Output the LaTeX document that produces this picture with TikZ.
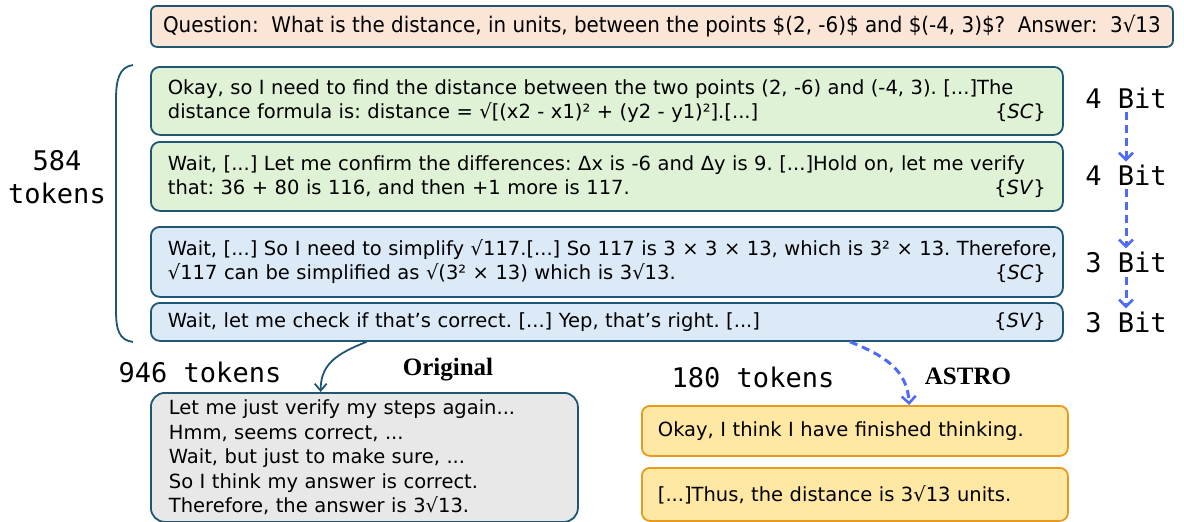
\documentclass[tikz,border=0pt]{standalone}
\usepackage{fontspec}
\setmainfont{DejaVu Sans}
\newfontfamily\monof{DejaVu Sans Mono}
\newfontfamily\serifb{Liberation Serif}
\newfontfamily\condf[FakeStretch=0.925]{DejaVu Sans}
\usetikzlibrary{arrows.meta,calc}
\definecolor{edge}{HTML}{1F5673}
\definecolor{qfill}{HTML}{FBE5D6}
\definecolor{gfill}{HTML}{DFF2D6}
\definecolor{bfill}{HTML}{DCE9F6}
\definecolor{grayfill}{HTML}{E8E8E8}
\definecolor{yfill}{HTML}{FFE8A3}
\definecolor{yedge}{HTML}{E69B1E}
\definecolor{dblue}{HTML}{4F6BF5}
\newcommand{\rtag}[1]{\hskip0pt plus1filll\{\textit{#1}\}}
\frenchspacing
\hyphenpenalty=10000
\begin{document}
\begin{tikzpicture}[x=1pt,y=-1pt,
  box/.style={draw=edge, line width=1.8pt, rounded corners=9pt, anchor=north west,
    inner xsep=17pt, inner ysep=0pt, align=left, text width=878pt, minimum height=#1,
    font=\fontsize{19.5}{24}\selectfont},
  mono/.style={font=\monof\fontsize{27}{33}\selectfont, inner sep=0pt},
  bold/.style={font=\serifb\bfseries\fontsize{25}{30}\selectfont, inner sep=0pt},
  dasharrow/.style={draw=dblue, line width=3pt, dash pattern=on 8pt off 5pt,
    -{Straight Barb[length=7pt,width=14pt,line width=2.6pt]}},
]
\useasboundingbox (0,0) rectangle (1184,522);

% question
\node[draw=edge, fill=qfill, line width=1.8pt, rounded corners=6pt, anchor=north west,
  minimum width=1022pt, minimum height=41pt, inner sep=0pt,
  font=\condf\fontsize{21.5}{24}\selectfont] (q) at (150,5)
  {Question:\ \ What is the distance, in units, between the points \$(2, -6)\$ and \$(-4, 3)\$?\ \ Answer:\ \ 3√13};

% reasoning boxes
\node[box=68pt, fill=gfill] (b1) at (150,66)
  {\mbox{Okay, so I need to find the distance between the two points (2, -6) and (-4, 3). [...]The}\\
   distance formula is: distance = √[(x2 - x1)² + (y2 - y1)²].[...]\rtag{SC}};
\node[box=69pt, fill=gfill] (b2) at (150,141)
  {\mbox{Wait, [...] Let me confirm the differences: Δx is -6 and Δy is 9. [...]Hold on, let me verify}\\
   that: 36 + 80 is 116, and then +1 more is 117.\rtag{SV}};
\node[box=70pt, fill=bfill] (b3) at (150,226)
  {\mbox{Wait, [...] So I need to simplify √117.[...] So 117 is 3 × 3 × 13, which is 3² × 13. Therefore,}\\
   √117 can be simplified as √(3² × 13) which is 3√13.\rtag{SC}};
\node[box=38pt, fill=bfill] (b4) at (150,302)
  {Wait, let me check if that's correct. [...] Yep, that's right. [...]\rtag{SV}};

% bracket and token count
\draw[edge, line width=1.8pt] (133,65) .. controls (119,67) and (116,80) .. (116,100)
  -- (116,310) .. controls (116,330) and (119,340) .. (133,342);
\node[mono, align=center] (t584) at (57,177) {584\\tokens};

% bits
\node[mono] (bit1) at (1126,98) {4 Bit};
\node[mono] (bit2) at (1126,175) {4 Bit};
\node[mono] (bit3) at (1126,262) {3 Bit};
\node[mono] (bit4) at (1126,322) {3 Bit};
\draw[dasharrow] ($(bit1.south)+(0,4)$) -- ($(bit2.north)+(0,-3)$);
\draw[dasharrow] ($(bit2.south)+(0,4)$) -- ($(bit3.north)+(0,-3)$);
\draw[dasharrow] ($(bit3.south)+(0,4)$) -- ($(bit4.north)+(0,-3)$);

% original branch
\node[mono] (t946) at (200,372) {946 tokens};
\node[bold] (orig) at (448,370) {Original};
\node[draw=edge, fill=grayfill, line width=1.8pt, rounded corners=14pt, anchor=north west,
  inner xsep=18pt, inner ysep=0pt, text width=391pt, minimum height=129pt, align=left,
  font=\fontsize{19.5}{24.5}\selectfont] (g) at (150,392)
  {Let me just verify my steps again...\\
   Hmm, seems correct, ...\\
   Wait, but just to make sure, ...\\
   So I think my answer is correct.\\
   Therefore, the answer is 3√13.};
\coordinate (s1) at ($(b4.south west)!0.237!(b4.south east)$);
\coordinate (e1) at ($(g.north west)!0.398!(g.north east)$);
\draw[edge, line width=1.8pt, -{Straight Barb[length=7pt,width=12pt,line width=1.8pt]}]
  (s1) .. controls ($(s1)+(-30,12)$) and ($(e1)+(0,-28)$) .. (e1);

% ASTRO branch
\node[mono] (t180) at (753,377) {180 tokens};
\node[bold] (astro) at (968,376) {ASTRO};
\node[draw=yedge, fill=yfill, line width=1.8pt, rounded corners=8pt, anchor=north west,
  inner xsep=16pt, inner ysep=0pt, text width=394pt, minimum height=50pt, align=left,
  font=\fontsize{19.5}{24}\selectfont] (y1) at (641,405)
  {Okay, I think I have finished thinking.};
\node[draw=yedge, fill=yfill, line width=1.8pt, rounded corners=8pt, anchor=north west,
  inner xsep=16pt, inner ysep=0pt, text width=394pt, minimum height=53pt, align=left,
  font=\fontsize{19.5}{24}\selectfont] (y2) at (641,467)
  {[...]Thus, the distance is 3√13 units.};
\coordinate (s2) at ($(b4.south west)!0.766!(b4.south east)$);
\coordinate (e2) at ($(y1.north west)!0.627!(y1.north east)$);
\draw[dasharrow] (s2) .. controls ($(s2)+(35,14)$) and ($(e2)+(-2,-35)$) .. (e2);
\end{tikzpicture}
\end{document}
